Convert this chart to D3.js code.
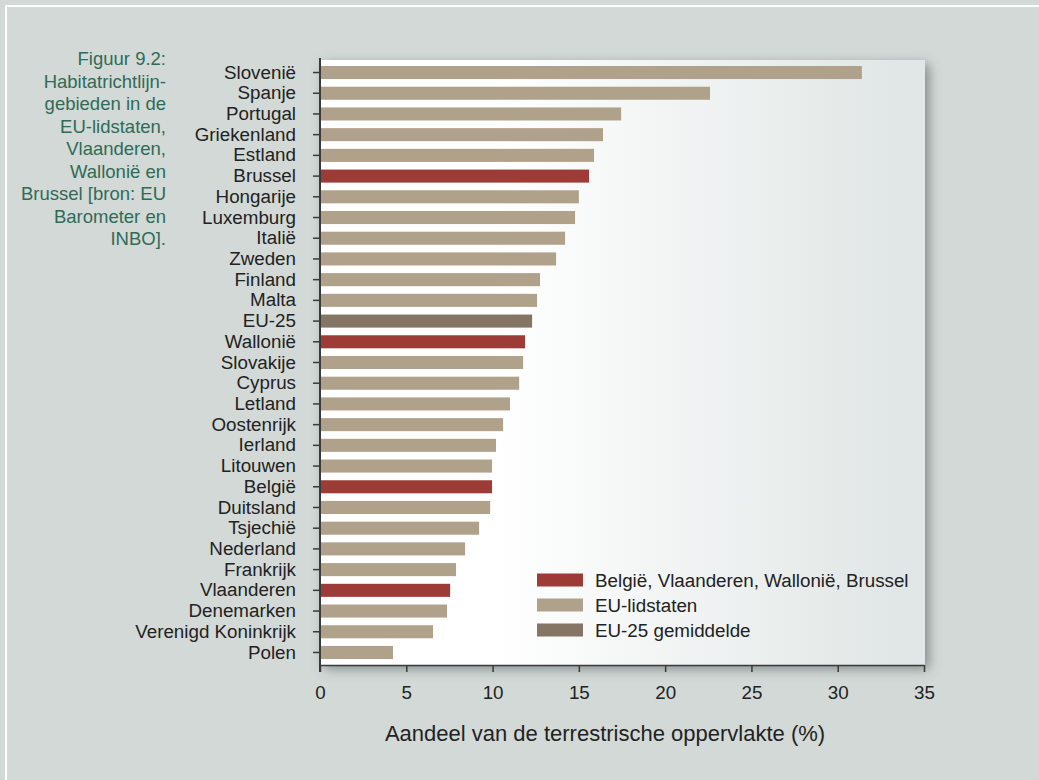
<!DOCTYPE html>
<html lang="nl">
<head>
    <meta charset="UTF-8">
    <title>Habitatrichtlijngebieden</title>
    <script src="https://d3js.org/d3.v7.min.js"></script>
    <style>
        body { margin: 0; background: #d3d9d7; }
        svg { display: block; font-family: "Liberation Sans", Arial, Helvetica, sans-serif; }
        .caption { fill: #2f6b56; font-size: 18.5px; }
        .axis text { fill: #222; font-size: 18.8px; font-family: "Liberation Sans", Arial, sans-serif; }
        .axis path, .axis line { stroke: #3a3a3a; }
        .legend text { fill: #222; font-size: 18.8px; }
    </style>
</head>
<body>
    <svg width="1039" height="780"></svg>

    <script>
        // data, top to bottom
        const countries = ["Slovenië", "Spanje", "Portugal", "Griekenland", "Estland", "Brussel",
            "Hongarije", "Luxemburg", "Italië", "Zweden", "Finland", "Malta", "EU-25", "Wallonië",
            "Slovakije", "Cyprus", "Letland", "Oostenrijk", "Ierland", "Litouwen", "België",
            "Duitsland", "Tsjechië", "Nederland", "Frankrijk", "Vlaanderen", "Denemarken",
            "Verenigd Koninkrijk", "Polen"];
        const values = [31.4, 22.6, 17.45, 16.4, 15.88, 15.59, 15.0, 14.78, 14.2, 13.68, 12.75,
            12.58, 12.29, 11.88, 11.77, 11.54, 11.01, 10.61, 10.2, 9.97, 9.97, 9.86, 9.22, 8.41,
            7.88, 7.54, 7.36, 6.55, 4.23];
        // b = Belgische gewesten, e = EU-lidstaten, g = EU-25 gemiddelde
        const groups = ["e", "e", "e", "e", "e", "b", "e", "e", "e", "e", "e", "e", "g", "b",
            "e", "e", "e", "e", "e", "e", "b", "e", "e", "e", "e", "b", "e", "e", "e"];
        const xTicks = [0, 5, 10, 15, 20, 25, 30, 35];
        const legendLabels = ["België, Vlaanderen, Wallonië, Brussel", "EU-lidstaten", "EU-25 gemiddelde"];
        const legendKeys = ["b", "e", "g"];
        const captionLines = ["Figuur 9.2:", "Habitatrichtlijn-", "gebieden in de", "EU-lidstaten,",
            "Vlaanderen,", "Wallonië en", "Brussel [bron: EU", "Barometer en", "INBO]."];
        const xTitle = "Aandeel van de terrestrische oppervlakte (%)";

        const data = countries.map((c, i) => ({name: c, value: values[i], group: groups[i]}));

        const colors = {b: "#9d3c36", e: "#b0a18a", g: "#857564"};

        const svg = d3.select("svg");
        const plot = {left: 320, right: 924, top: 60, bottom: 665};

        const x = d3.scaleLinear()
            .domain([0, 35])
            .range([plot.left, plot.right]);

        const y = d3.scaleBand()
            .domain(countries)
            .range([plot.top, plot.bottom])
            .paddingInner(0.37)
            .paddingOuter(0.29);

        const defs = svg.append("defs");

        const grad = defs.append("linearGradient")
            .attr("id", "plotbg")
            .attr("x1", "0").attr("x2", "1").attr("y1", "0").attr("y2", "0");
        grad.append("stop").attr("offset", "0.29").attr("stop-color", "#ffffff");
        grad.append("stop").attr("offset", "0.95").attr("stop-color", "#e1e7e6");

        const shadow = defs.append("filter")
            .attr("id", "shadow")
            .attr("x", "-10%").attr("y", "-10%").attr("width", "120%").attr("height", "120%");
        shadow.append("feDropShadow")
            .attr("dx", 4).attr("dy", 4)
            .attr("stdDeviation", 6)
            .attr("flood-color", "#4e5856")
            .attr("flood-opacity", 0.6);

        // outer frame (only top and left edges are visible)
        svg.append("rect")
            .attr("x", 6).attr("y", 6)
            .attr("width", 1100).attr("height", 900)
            .attr("fill", "none")
            .attr("stroke", "#ffffff")
            .attr("stroke-width", 2);

        // plot panel
        svg.append("rect")
            .attr("x", plot.left)
            .attr("y", plot.top)
            .attr("width", 925 - plot.left)
            .attr("height", plot.bottom - plot.top)
            .attr("fill", "url(#plotbg)")
            .attr("filter", "url(#shadow)");

        // caption
        svg.append("text")
            .attr("class", "caption")
            .attr("text-anchor", "end")
            .selectAll("tspan")
            .data(captionLines)
            .join("tspan")
            .attr("x", 166)
            .attr("y", (d, i) => 65 + i * 22.5)
            .text(d => d);

        // bars
        svg.append("g")
            .selectAll("rect")
            .data(data)
            .join("rect")
            .attr("x", x(0) + 1)
            .attr("y", d => y(d.name))
            .attr("width", d => x(d.value) - x(0) - 1)
            .attr("height", y.bandwidth())
            .attr("fill", d => colors[d.group]);

        // y axis
        const yAxis = svg.append("g")
            .attr("class", "axis")
            .attr("transform", `translate(${plot.left},0)`)
            .call(d3.axisLeft(y).tickSize(7).tickPadding(17).tickSizeOuter(0));
        yAxis.select(".domain")
            .attr("d", `M0,${plot.top - 2}V${plot.bottom + 7}`)
            .attr("stroke", "#333")
            .attr("stroke-width", 2);
        yAxis.selectAll(".tick line").attr("stroke", "#555").attr("stroke-width", 1.5);

        // x axis
        const xAxis = svg.append("g")
            .attr("class", "axis")
            .attr("transform", `translate(0,${plot.bottom})`)
            .call(d3.axisBottom(x).tickValues(xTicks).tickSize(7).tickPadding(14).tickSizeOuter(0));
        xAxis.select(".domain").attr("stroke", "#333").attr("stroke-width", 1.5);
        xAxis.selectAll(".tick line").attr("stroke", "#333").attr("stroke-width", 1.5);

        svg.append("text")
            .attr("x", 605)
            .attr("y", 741)
            .attr("text-anchor", "middle")
            .attr("fill", "#222")
            .style("font-size", "22px")
            .text(xTitle);

        // legend
        const legend = svg.append("g")
            .attr("class", "legend")
            .selectAll("g")
            .data(legendKeys)
            .join("g")
            .attr("transform", (d, i) => `translate(537,${580 + i * 25})`);
        legend.append("rect")
            .attr("x", 0).attr("y", -6.5)
            .attr("width", 46).attr("height", 13)
            .attr("fill", d => colors[d]);
        legend.append("text")
            .attr("x", 58)
            .attr("dy", "0.35em")
            .text((d, i) => legendLabels[i]);
    </script>
</body>
</html>
